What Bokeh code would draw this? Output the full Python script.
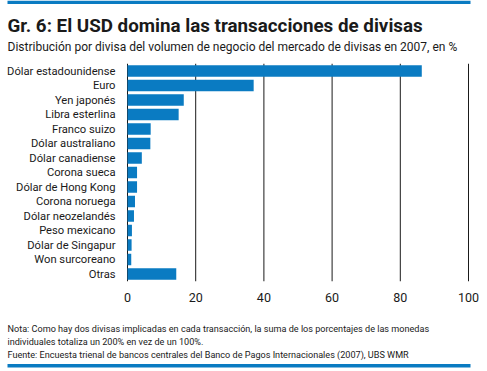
from bokeh.plotting import figure
from bokeh.models import Range1d, Label, BoxAnnotation, ColumnDataSource
from bokeh.embed import file_html
from bokeh.resources import INLINE

categories = ["Dólar estadounidense", "Euro", "Yen japonés", "Libra esterlina", "Franco suizo",
              "Dólar australiano", "Dólar canadiense", "Corona sueca", "Dólar de Hong Kong",
              "Corona noruega", "Dólar neozelandés", "Peso mexicano", "Dólar de Singapur",
              "Won surcoreano", "Otras"]
values = [86.3, 37.0, 16.5, 15.0, 6.8, 6.7, 4.2, 2.8, 2.8, 2.2, 1.9, 1.3, 1.2, 1.1, 14.3]
x_ticks = [0, 20, 40, 60, 80, 100]
x_tick_labels = ["0", "20", "40", "60", "80", "100"]

title_text = "Gr. 6: El USD domina las transacciones de divisas"
subtitle_text = "Distribución por divisa del volumen de negocio del mercado de divisas en 2007, en %"
notes = ["Nota: Como hay dos divisas implicadas en cada transacción, la suma de los porcentajes de las monedas",
         "individuales totaliza un 200% en vez de un 100%.",
         "Fuente: Encuesta trienal de bancos centrales del Banco de Pagos Internacionales (2007), UBS WMR"]

BLUE = "#0a7bc2"
TXT = "#1a1a1a"
FONT = "Roboto"
W, H = 487, 371
TEXT_X = 7

# layout of the plotting area inside the canvas (pixels)
PLOT_LEFT, PLOT_RIGHT = 127, 468      # x of value 0 and value 100
ROW0, ROW_STEP = 70.5, 14.5           # centre of first row, row spacing
px_per_unit = (PLOT_RIGHT - PLOT_LEFT) / (x_ticks[-1] - x_ticks[0])
n = len(categories)
rows = list(range(n))

x_range = Range1d(-PLOT_LEFT / px_per_unit, (W - PLOT_LEFT) / px_per_unit)
y_range = Range1d((H - ROW0) / ROW_STEP, -ROW0 / ROW_STEP)

p = figure(width=W, height=H, output_backend="svg", toolbar_location=None,
           x_range=x_range, y_range=y_range,
           x_axis_location=None, y_axis_location=None,
           min_border=0, min_border_left=0, min_border_right=0,
           min_border_top=0, min_border_bottom=0)
p.outline_line_color = None
p.xgrid.visible = False
p.ygrid.visible = False

# grid lines at the x ticks
p.segment(x0=x_ticks, x1=x_ticks, y0=[-0.5] * len(x_ticks), y1=[n - 0.5] * len(x_ticks),
          line_color=TXT, line_width=1)

# bars
src = ColumnDataSource(dict(row=rows, val=values, cat=categories))
p.hbar(y="row", right="val", left=0, height=0.79, source=src, color=BLUE, line_color=None)

# category labels (left axis)
p.text(x=-12 / px_per_unit, y="row", text="cat", source=src,
       text_font={"value": FONT}, text_font_size="11.2px", text_color=TXT,
       text_align="right", text_baseline="middle")

# x tick labels (bottom axis)
p.text(x=x_ticks, y=[n - 0.5 + 16 / ROW_STEP] * len(x_ticks), text=x_tick_labels,
       text_font={"value": FONT}, text_font_size="12.5px", text_color=TXT,
       text_align="center", text_baseline="middle")


def lab(base, text, size, style="normal"):
    p.add_layout(Label(x=TEXT_X, y=H - base, x_units="screen", y_units="screen", text=text,
                       text_font=FONT, text_font_size=size, text_font_style=style,
                       text_color=TXT, text_baseline="alphabetic", text_align="left"))


def bar_line(top, thick=3.5):
    p.add_layout(BoxAnnotation(left=7, right=470, top=H - top, bottom=H - top - thick,
                               left_units="screen", right_units="screen",
                               top_units="screen", bottom_units="screen",
                               fill_color=BLUE, fill_alpha=1, line_color=None))


bar_line(0)
lab(25, title_text, "18.8px", "bold")
lab(46, subtitle_text, "12px")
lab(328, notes[0], "9.1px")
lab(341, notes[1], "9.1px")
lab(354, notes[2], "9.1px")
bar_line(363.5)

open("out.html", "w").write(file_html(p, INLINE))
